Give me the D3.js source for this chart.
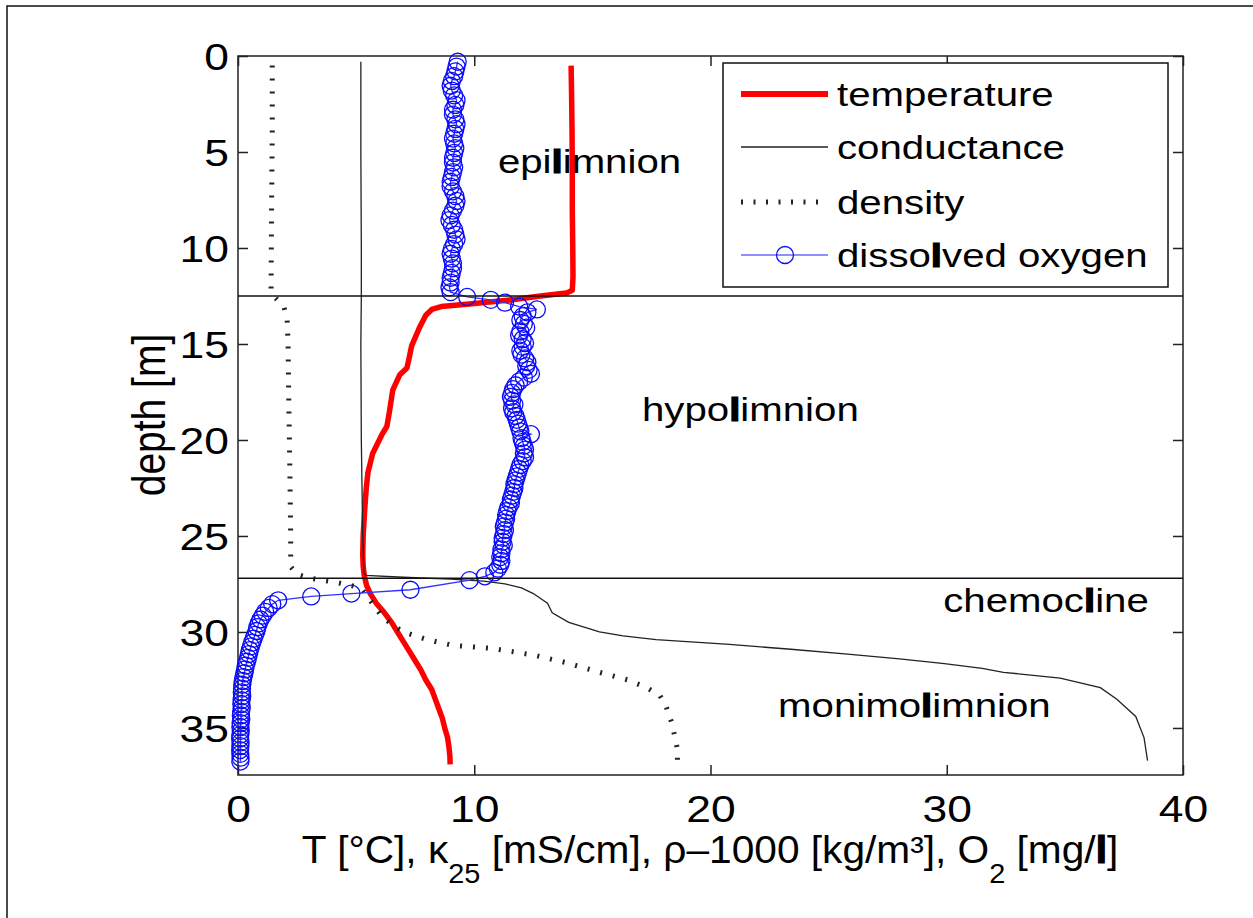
<!DOCTYPE html>
<html lang="en">
<head>
<meta charset="UTF-8">
<title>lake_profile</title>
<script src="https://cdnjs.cloudflare.com/ajax/libs/d3/7.8.5/d3.min.js"></script>
<style>
  body { margin: 0; background: #fff; }
  svg text { font-family: "Liberation Sans", Arial, Helvetica, sans-serif; fill: #000; }
</style>
</head>
<body>
<svg id="chart" width="1253" height="918"></svg>
<script>
// ---- data (depth in m) ----
var tempDepth = [0.5, 2, 4, 6, 8, 10, 11.5, 12.2, 12.35, 12.5, 12.7, 12.9, 13.05, 13.2, 13.5, 14.1, 15.1, 15.7, 16.25, 16.6, 17.4, 18.6, 19.3, 19.7, 20.7, 21.7, 22.5, 23.5, 24.9, 26.0, 26.6, 27.1, 27.6, 28.0, 28.5, 29.0, 29.5, 30.0, 30.5, 31.0, 31.5, 32.0, 32.5, 33.0, 33.5, 34.0, 34.5, 35.0, 35.5, 36.0, 36.5, 36.9];
var tempValue = [14.1, 14.12, 14.14, 14.15, 14.15, 14.17, 14.18, 14.15, 13.9, 12.8, 11.6, 9.9, 8.6, 8.2, 7.95, 7.7, 7.35, 7.25, 7.15, 6.85, 6.55, 6.4, 6.3, 6.1, 5.7, 5.5, 5.43, 5.37, 5.3, 5.28, 5.3, 5.35, 5.45, 5.6, 5.85, 6.2, 6.5, 6.75, 7.0, 7.25, 7.5, 7.75, 7.95, 8.2, 8.35, 8.5, 8.65, 8.75, 8.87, 8.93, 8.97, 8.98];

var condDepth = [0.3, 5, 10, 12.5, 15, 20, 25, 26.9, 27.05, 27.15, 27.25, 27.35, 27.5, 27.7, 28.0, 28.5, 29.0, 29.5, 30.0, 30.2, 30.4, 30.65, 30.9, 31.15, 31.4, 31.65, 31.9, 32.1, 32.4, 32.9, 33.5, 34.4, 35.5, 36.7];
var condValue = [5.2, 5.2, 5.22, 5.22, 5.2, 5.22, 5.28, 5.33, 5.4, 7.0, 9.0, 10.4, 11.3, 12.0, 12.5, 13.1, 13.3, 14.0, 15.3, 16.3, 17.7, 20.8, 23.4, 25.8, 28.0, 29.9, 31.5, 32.4, 34.8, 36.5, 37.2, 38.0, 38.35, 38.5];

var densDepth = [0.5, 4, 8, 12.2, 12.5, 12.8, 13.1, 13.7, 15, 18, 22, 25, 26.6, 27.0, 27.2, 27.4, 27.55, 27.7, 28.2, 28.7, 29.2, 29.6, 30.0, 30.4, 30.7, 30.85, 31.2, 31.6, 32.1, 32.5, 32.9, 33.3, 33.8, 34.7, 35.5, 36.1, 36.8];
var densValue = [1.45, 1.45, 1.42, 1.4, 1.5, 1.75, 1.95, 2.08, 2.12, 2.15, 2.2, 2.23, 2.23, 2.5, 3.05, 4.1, 4.66, 5.2, 5.5, 5.8, 6.1, 6.5, 7.0, 8.0, 9.1, 10.7, 12.5, 13.9, 15.3, 16.5, 17.3, 17.85, 18.1, 18.35, 18.5, 18.6, 18.6];

var oxyDepth = [
  0.30, 0.55, 0.80, 1.05, 1.30, 1.55, 1.80, 2.05, 2.30, 2.55, 2.80, 3.05, 3.30, 3.55, 3.80, 4.05, 4.30, 4.55, 4.80, 5.05,
  5.30, 5.55, 5.80, 6.05, 6.30, 6.55, 6.80, 7.05, 7.30, 7.55, 7.80, 8.05, 8.30, 8.55, 8.80, 9.05, 9.30, 9.55, 9.80, 10.05,
  10.30, 10.55, 10.80, 11.05, 11.30, 11.55, 11.80, 12.05, 12.30,
  12.55, 12.70, 12.85, 13.05, 13.20, 13.35,
  13.55, 13.75, 13.95, 14.15, 14.35, 14.55, 14.75, 14.95, 15.15, 15.35, 15.55, 15.75, 15.95, 16.15, 16.35, 16.55, 16.75, 16.95,
  17.15, 17.35, 17.55, 17.75, 17.95, 18.15, 18.35, 18.55, 18.75, 18.95, 19.15, 19.35, 19.55, 19.70, 19.90, 20.10, 20.30, 20.50,
  20.70, 20.90, 21.10, 21.30, 21.50, 21.70, 21.90, 22.10, 22.30, 22.50, 22.70, 22.90, 23.10, 23.30, 23.50, 23.70, 23.90, 24.10,
  24.30, 24.50, 24.70, 24.90, 25.10, 25.30, 25.50, 25.70, 25.90, 26.10, 26.30, 26.50, 26.70, 26.90, 27.10, 27.30,
  27.80, 28.00, 28.15, 28.35,
  28.55, 28.75, 28.95, 29.15, 29.35, 29.55, 29.75, 29.95, 30.15, 30.35, 30.55, 30.75, 30.95, 31.15, 31.35, 31.55, 31.75, 31.95,
  32.15, 32.35, 32.55, 32.75, 32.95, 33.15, 33.35, 33.55, 33.75, 33.95, 34.15, 34.35, 34.55, 34.75, 34.95, 35.15, 35.35, 35.55,
  35.75, 35.95, 36.15, 36.35, 36.55, 36.75
];
var oxyValue = [
  9.30, 9.25, 9.20, 9.15, 9.05, 9.00, 9.05, 9.15, 9.25, 9.20, 9.10, 9.10, 9.20, 9.25, 9.20, 9.15, 9.10, 9.15, 9.20, 9.15,
  9.10, 9.10, 9.15, 9.10, 9.05, 9.00, 9.00, 9.10, 9.20, 9.25, 9.20, 9.10, 9.00, 8.95, 9.05, 9.15, 9.20, 9.25, 9.15, 9.05,
  9.00, 9.05, 9.10, 9.10, 9.05, 9.00, 9.00, 8.95, 9.00,
  9.70, 10.70, 11.30, 11.90, 12.65, 12.25,
  12.05, 11.95, 12.10, 12.20, 11.95, 11.90, 12.05, 12.15, 12.05, 11.95, 12.00, 12.15, 12.25, 12.20, 12.30, 12.40, 12.10, 11.90,
  11.75, 11.65, 11.60, 11.55, 11.60, 11.70, 11.60, 11.65, 11.75, 11.80, 11.85, 11.90, 11.95, 12.40, 12.00, 12.05, 12.10, 12.15,
  12.10, 12.15, 12.05, 11.95, 11.90, 11.85, 11.80, 11.75, 11.70, 11.70, 11.65, 11.60, 11.55, 11.55, 11.45, 11.40, 11.35, 11.35,
  11.30, 11.25, 11.30, 11.25, 11.20, 11.20, 11.25, 11.15, 11.15, 11.10, 11.15, 11.10, 11.00, 10.85, 10.45, 9.80,
  7.30, 4.80, 3.10, 1.70,
  1.45, 1.30, 1.15, 1.05, 0.95, 0.88, 0.82, 0.78, 0.72, 0.66, 0.60, 0.55, 0.50, 0.46, 0.42, 0.38, 0.33, 0.30,
  0.27, 0.23, 0.20, 0.18, 0.17, 0.16, 0.18, 0.15, 0.14, 0.16, 0.13, 0.12, 0.14, 0.11, 0.10, 0.12, 0.10, 0.09,
  0.11, 0.10, 0.09, 0.10, 0.11, 0.10
];

var layerBounds = [12.5, 27.2];
var layerNames = ["epilimnion", "hypolimnion", "chemocline", "monimolimnion"];
var seriesNames = ["temperature", "conductance", "density", "dissolved oxygen"];
var xTicks = [0, 10, 20, 30, 40];
var yTicks = [0, 5, 10, 15, 20, 25, 30, 35];

// ---- layout ----
var margin = {top: 56, left: 238},
    width = 945,
    height = 719;
var stretch = 1.2;   // the source figure is a bit wider than tall

var svg = d3.select("#chart");

// outer frame (only top and left edge visible)
svg.append("path")
    .attr("d", "M7,918 L7,6 L1253,6")
    .attr("fill", "none")
    .attr("stroke", "#111")
    .attr("stroke-width", 1.5);

var g = svg.append("g")
    .attr("transform", "translate(" + margin.left + "," + margin.top + ")");

var x = d3.scaleLinear().domain([0, 40]).range([0, width]);
var y = d3.scaleLinear().domain([0, 37.45]).range([0, height]);

function profile(depths, values) {
    return depths.map(function(d, i) { return {depth: d, value: values[i]}; });
}
var line = d3.line()
    .x(function(d) { return x(d.value); })
    .y(function(d) { return y(d.depth); });

// plot frame
g.append("rect")
    .attr("width", width).attr("height", height)
    .attr("fill", "none").attr("stroke", "#222").attr("stroke-width", 1.5);

// axes with inward ticks, mirrored on top/right
var xAxis = g.append("g")
    .attr("transform", "translate(0," + height + ")")
    .call(d3.axisBottom(x).tickValues(xTicks).tickSizeInner(-10).tickSizeOuter(0));
var yAxis = g.append("g")
    .call(d3.axisLeft(y).tickValues(yTicks).tickSizeInner(-10).tickSizeOuter(0));
g.append("g")
    .call(d3.axisTop(x).tickValues(xTicks).tickSizeInner(-10).tickSizeOuter(0).tickFormat(""));
g.append("g")
    .attr("transform", "translate(" + width + ",0)")
    .call(d3.axisRight(y).tickValues(yTicks).tickSizeInner(-10).tickSizeOuter(0).tickFormat(""));

g.selectAll(".domain").remove();
g.selectAll(".tick line").attr("stroke", "#222").attr("stroke-width", 1.5);
g.selectAll(".tick text").remove();

xAxis.selectAll(".tick").append("text")
    .attr("text-anchor", "middle")
    .attr("transform", "translate(0,47) scale(" + stretch + ",1)")
    .style("font-size", "37px")
    .text(function(d) { return d; });
yAxis.selectAll(".tick").append("text")
    .attr("text-anchor", "end")
    .attr("dy", "0.36em")
    .attr("transform", "translate(-9,0) scale(" + stretch + ",1)")
    .style("font-size", "37px")
    .text(function(d) { return d; });

// profiles
g.append("path")
    .datum(profile(tempDepth, tempValue))
    .attr("d", line)
    .attr("fill", "none").attr("stroke", "#ff0000").attr("stroke-width", 5.5)
    .attr("stroke-linejoin", "round");

g.append("path")
    .datum(profile(condDepth, condValue))
    .attr("d", line)
    .attr("fill", "none").attr("stroke", "#222").attr("stroke-width", 1.3);

g.append("path")
    .datum(profile(densDepth, densValue))
    .attr("d", line)
    .attr("fill", "none").attr("stroke", "#222").attr("stroke-width", 5)
    .attr("stroke-dasharray", "2,11");

var oxy = profile(oxyDepth, oxyValue);
g.append("path")
    .datum(oxy)
    .attr("d", line)
    .attr("fill", "none").attr("stroke", "#3333ff").attr("stroke-width", 1.3);
g.selectAll(".oxy")
    .data(oxy)
    .enter().append("circle")
    .attr("class", "oxy")
    .attr("cx", function(d) { return x(d.value); })
    .attr("cy", function(d) { return y(d.depth); })
    .attr("r", 8.5)
    .attr("fill", "none").attr("stroke", "#0a0aff").attr("stroke-width", 1.3);

// layer boundaries
g.selectAll(".bound")
    .data(layerBounds)
    .enter().append("line")
    .attr("x1", 0).attr("x2", width)
    .attr("y1", function(d) { return y(d); })
    .attr("y2", function(d) { return y(d); })
    .attr("stroke", "#111").attr("stroke-width", 1.5);

// text with the thick "l" as in the original rendering
function labelText(sel, str) {
    str.split(/(l)/).forEach(function(part) {
        if (!part) return;
        var t = sel.append("tspan").text(part);
        if (part === "l") t.style("font-weight", "bold").attr("stroke", "#000").attr("stroke-width", 1.2);
    });
}

// layer names, placed in data units (value, depth)
var layerSpots = [[11.0, 6.09], [17.1, 19.0], [29.85, 28.96], [22.86, 34.43]];
layerNames.forEach(function(name, i) {
    var t = g.append("text")
        .attr("transform", "translate(" + x(layerSpots[i][0]) + "," + y(layerSpots[i][1]) + ") scale(" + stretch + ",1)")
        .style("font-size", "33.5px");
    labelText(t, name);
});

// legend
var legend = svg.append("g");
legend.append("rect")
    .attr("x", 723).attr("y", 63).attr("width", 445).attr("height", 224)
    .attr("fill", "#fff").attr("stroke", "#111").attr("stroke-width", 1.5);
var rowY = [94, 147, 202, 255];
var sample = [
    {stroke: "#ff0000", width: 6, dash: null},
    {stroke: "#222", width: 1.3, dash: null},
    {stroke: "#222", width: 5, dash: "2,10.5"},
    {stroke: "#8f8fff", width: 2, dash: null}
];
seriesNames.forEach(function(name, i) {
    legend.append("line")
        .attr("x1", 741).attr("x2", 828)
        .attr("y1", rowY[i]).attr("y2", rowY[i])
        .attr("stroke", sample[i].stroke)
        .attr("stroke-width", sample[i].width)
        .attr("stroke-dasharray", sample[i].dash);
    var t = legend.append("text")
        .attr("transform", "translate(837," + rowY[i] + ") scale(" + stretch + ",1)")
        .attr("dy", "0.36em")
        .style("font-size", "33.5px");
    labelText(t, name);
});
legend.append("circle")
    .attr("cx", 785).attr("cy", rowY[3]).attr("r", 8.5)
    .attr("fill", "none").attr("stroke", "#1010ff").attr("stroke-width", 1.3);

// axis titles
var xl = svg.append("text")
    .attr("text-anchor", "middle")
    .attr("transform", "translate(710,863) scale(1.07,1)")
    .style("font-size", "38px");
xl.append("tspan").text("T [°C], κ");
xl.append("tspan").attr("dy", 20).style("font-size", "27px").text("25");
xl.append("tspan").attr("dy", -20).text(" [mS/cm], ρ–1000 [kg/m³], O");
xl.append("tspan").attr("dy", 20).style("font-size", "27px").text("2");
xl.append("tspan").attr("dy", -20).text(" [mg/");
xl.append("tspan").style("font-weight", "bold").attr("stroke", "#000").attr("stroke-width", 1.2).text("l");
xl.append("tspan").text("]");

svg.append("text")
    .attr("text-anchor", "middle")
    .attr("transform", "translate(165,415) scale(" + stretch + ",1) rotate(-90)")
    .style("font-size", "39px")
    .text("depth [m]");
</script>
</body>
</html>
